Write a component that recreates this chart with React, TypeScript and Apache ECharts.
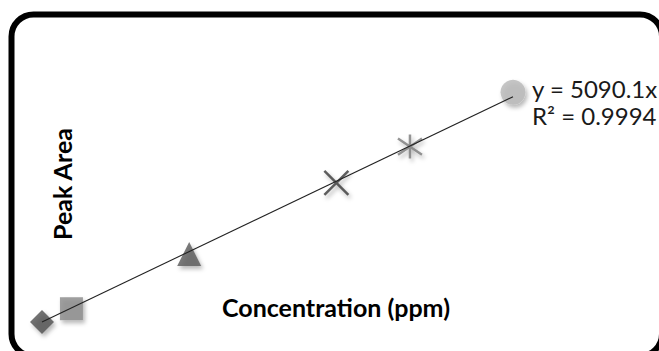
import React, { useEffect, useRef } from "react";
import * as echarts from "echarts";

// Calibration standards (concentration in ppm vs. peak area)
const concentrations = [0, 1, 5, 10, 12.5, 16];
const peakAreas = [0, 4800, 24600, 50300, 63400, 83000];
const markerSymbols = [
  "diamond",
  "rect",
  "triangle",
  "path://M0,0L10,10M10,0L0,10",
  "path://M5,0L5,10M0.8,1.6L9.2,8.4M9.2,1.6L0.8,8.4",
  "circle",
];
const markerFills = ["#4f4f4f", "#8a8a8a", "#585858", "transparent", "transparent", "#b8b8b8"];
const markerStrokes = ["none", "none", "none", "#3a3a3a", "#7a7a7a", "none"];
const markerSizes = [24, 23, 24, 24, 24, 25];

// Linear trendline through the origin
const slope = 5090.1;
const rSquared = 0.9994;
const trendX = [0, 16];

const xTitle = "Concentration (ppm)";
const yTitle = "Peak Area";

export default function App() {
  const ref = useRef<HTMLDivElement>(null);

  useEffect(() => {
    if (!ref.current) return;
    const chart = echarts.init(ref.current, undefined, { renderer: "svg" });

    const scatterSeries = concentrations.map((c, i) => ({
      type: "scatter",
      name: `std${i}`,
      data: [[c, peakAreas[i]]],
      symbol: markerSymbols[i],
      symbolSize: markerSizes[i],
      clip: false,
      z: 2,
      itemStyle: {
        color: markerFills[i],
        borderColor: markerStrokes[i] === "none" ? undefined : markerStrokes[i],
        borderWidth: markerStrokes[i] === "none" ? 0 : 2.5,
        shadowBlur: 4,
        shadowOffsetX: 2,
        shadowOffsetY: 3,
        shadowColor: "rgba(0,0,0,0.35)",
      },
    }));

    const fontFamily = "Lato, 'Open Sans', sans-serif";

    chart.setOption({
      animation: false,
      backgroundColor: "#ffffff",
      grid: { left: 42, right: 28.25, top: 73, bottom: 29 },
      xAxis: { type: "value", min: 0, max: 20, show: false },
      yAxis: { type: "value", min: 0, max: 90000, show: false },
      series: [
        ...scatterSeries,
        {
          type: "line",
          name: "trend",
          data: trendX.map((x) => [x, slope * x]),
          symbol: "none",
          clip: false,
          z: 5,
          lineStyle: { color: "#222222", width: 1.1 },
        },
      ],
      graphic: [
        {
          type: "rect",
          silent: true,
          z: 100,
          shape: { x: 11.5, y: 14.5, width: 650.5, height: 341.5, r: 22 },
          style: { fill: "none", stroke: "#000000", lineWidth: 6 },
        },
        {
          type: "text",
          x: 62,
          y: 184,
          rotation: Math.PI / 2,
          style: {
            text: yTitle,
            font: `bold 25px ${fontFamily}`,
            fill: "#000000",
            align: "center",
            verticalAlign: "middle",
          },
        },
        {
          type: "text",
          x: 336,
          y: 307,
          style: {
            text: xTitle,
            font: `bold 25px ${fontFamily}`,
            fill: "#000000",
            align: "center",
            verticalAlign: "middle",
          },
        },
        {
          type: "text",
          x: 532,
          y: 88,
          style: {
            text: `y = ${slope}x`,
            font: `24px ${fontFamily}`,
            fill: "#1a1a1a",
            align: "left",
            verticalAlign: "middle",
          },
        },
        {
          type: "text",
          x: 532,
          y: 115,
          style: {
            text: `R² = ${rSquared}`,
            font: `24px ${fontFamily}`,
            fill: "#1a1a1a",
            align: "left",
            verticalAlign: "middle",
          },
        },
      ],
    });

    return () => chart.dispose();
  }, []);

  return (
    <div
      ref={ref}
      style={{ position: "fixed", left: 0, top: 0, width: 659, height: 351 }}
    />
  );
}
